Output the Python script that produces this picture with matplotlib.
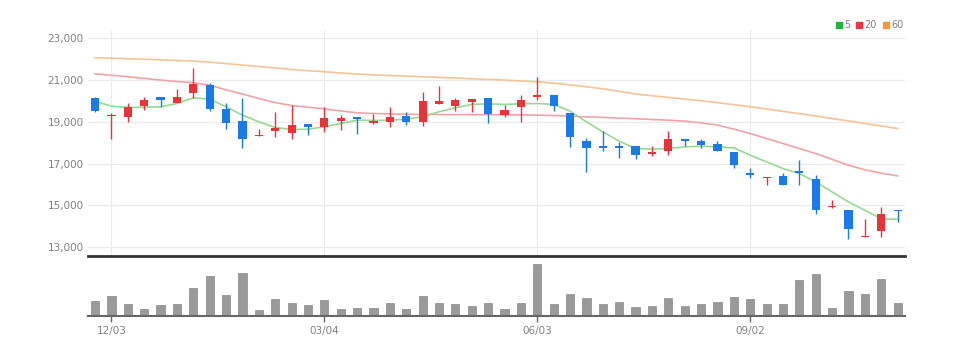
import matplotlib
matplotlib.use("Agg")
import matplotlib.pyplot as plt
from matplotlib.lines import Line2D
import numpy as np
import pandas as pd

plt.rcParams['font.family'] = ['Liberation Sans Narrow', 'DejaVu Sans']

# weekly candles, 2018-11-26 .. 2019-11-04
weeks = pd.date_range('2018-11-26', periods=50, freq='W-MON')
tick_labels = ['12/03', '03/04', '06/03', '09/02']

opens = [20120, 19288, 19240, 19752, 20184, 19888, 20376, 20760, 19608, 19032,
         18312, 18568, 18488, 18872, 18728, 19048, 19240, 18920, 18968, 19272,
         18984, 19832, 19768, 19944, 20120, 19320, 19704, 20200, 20280, 19432,
         18088, 17864, 17832, 17848, 17448, 17592, 18184, 18088, 17928, 17544,
         16552, 16296, 16424, 16632, 16248, 14904, 14760, 13480, 13768, 14760]
highs = [20200, 19400, 19912, 20200, 20184, 20568, 21560, 20840, 19880, 20120,
         18648, 19480, 19800, 18872, 19720, 19320, 19240, 19352, 19688, 19480,
         20408, 20728, 20120, 20100, 20120, 19800, 20280, 21128, 20280, 19432,
         18232, 18552, 18040, 17848, 17848, 18568, 18200, 18200, 18088, 17544,
         16808, 16360, 16552, 17160, 16440, 15240, 14760, 14360, 14920, 14760]
lows = [19450, 18200, 19000, 19560, 19720, 19960, 20152, 19528, 18648, 17752,
        18312, 18280, 18200, 18392, 18520, 18600, 18440, 18900, 18728, 18840,
        18776, 19832, 19512, 19448, 18920, 19208, 19000, 20040, 19512, 17800,
        16600, 17592, 17272, 17240, 17368, 17432, 17848, 17752, 17592, 16808,
        16328, 15960, 15960, 15960, 14600, 14872, 13400, 13480, 13480, 14200]
closes = [19528, 19336, 19688, 20024, 20024, 20200, 20808, 19608, 18952, 18200,
          18392, 18712, 18840, 18744, 19192, 19176, 19128, 19032, 19208, 18968,
          20008, 19992, 20040, 20088, 19352, 19560, 20040, 20280, 19752, 18280,
          17752, 17752, 17768, 17432, 17560, 18168, 18104, 17912, 17592, 16920,
          16456, 16360, 15960, 16568, 14792, 14968, 13848, 13544, 14568, 14712]

ma5 = [19992, 19752, 19688, 19704, 19720, 19880, 20152, 20088, 19720, 19320,
       19000, 18728, 18632, 18648, 18760, 18920, 19080, 19064, 19080, 19128,
       19240, 19480, 19672, 19832, 19864, 19832, 19864, 19880, 19832, 19512,
       19000, 18520, 18072, 17720, 17688, 17720, 17800, 17832, 17800, 17752,
       17400, 17080, 16760, 16520, 16120, 15640, 15160, 14760, 14360, 14328]
ma20 = [21300, 21230, 21160, 21080, 21000, 20930, 20870, 20760, 20530, 20330,
        20120, 19920, 19780, 19700, 19620, 19520, 19430, 19400, 19380, 19360,
        19350, 19350, 19340, 19340, 19340, 19330, 19330, 19320, 19300, 19270,
        19240, 19210, 19180, 19150, 19110, 19080, 19030, 18950, 18840, 18650,
        18440, 18200, 17960, 17720, 17480, 17200, 16920, 16700, 16540, 16410]
ma60 = [22070, 22050, 22020, 22000, 21970, 21940, 21910, 21860, 21790, 21720,
        21650, 21580, 21510, 21450, 21400, 21340, 21290, 21250, 21220, 21190,
        21160, 21130, 21100, 21060, 21030, 21000, 20960, 20920, 20850, 20770,
        20680, 20580, 20460, 20330, 20250, 20170, 20090, 20010, 19920, 19820,
        19720, 19610, 19500, 19390, 19280, 19160, 19040, 18920, 18800, 18680]

volumes = [147, 200, 117, 67, 107, 123, 280, 397, 213, 430,
           57, 173, 133, 107, 163, 73, 83, 83, 133, 67,
           197, 133, 117, 100, 133, 73, 133, 523, 117, 220,
           180, 117, 140, 90, 97, 180, 100, 123, 140, 187,
           167, 120, 120, 357, 423, 83, 253, 223, 373, 133]

UP = '#e8333a'
DOWN = '#1a7ae8'
GRID = '#ebebeb'
TXT = '#808080'

fig = plt.figure(figsize=(9.68, 3.55), dpi=100)
ax = fig.add_axes([88 / 968, 1 - 256 / 355, 817 / 968, 226 / 355])
axv = fig.add_axes([88 / 968, 1 - 316 / 355, 817 / 968, 56 / 355])

x = np.arange(len(closes))
o = np.array(opens)
c = np.array(closes)
colors = [UP if cc >= oo else DOWN for oo, cc in zip(o, c)]
body_low = np.minimum(o, c)
body_h = np.maximum(np.abs(c - o), 60)

tick_pos = [i for i, d in enumerate(weeks) if d.strftime('%m/%d') in tick_labels]

# price panel
for yv in range(13000, 23001, 2000):
    ax.axhline(yv, color=GRID, lw=0.9, zorder=0)
for tp in tick_pos:
    ax.axvline(tp, color=GRID, lw=0.9, zorder=0)

ax.plot(x, ma60, color='#f7c397', lw=1.2, zorder=1)
ax.plot(x, ma20, color='#f3a3a8', lw=1.2, zorder=1)
ax.plot(x, ma5, color='#96da92', lw=1.2, zorder=1)

ax.vlines(x, lows, highs, colors=colors, lw=1.0, zorder=2)
ax.bar(x, body_h, bottom=body_low, width=0.5, color=colors, zorder=3)

ax.set_xlim(-0.43, 49.45)
ax.set_ylim(12570, 23400)
ax.set_yticks(range(13000, 23001, 2000))
ax.set_yticklabels([f'{v:,}' for v in range(13000, 23001, 2000)])
ax.tick_params(axis='y', length=0, pad=3, labelsize=7.5, labelcolor=TXT)
ax.tick_params(axis='x', length=0, labelbottom=False)
for s in ['top', 'right', 'left']:
    ax.spines[s].set_visible(False)
ax.spines['bottom'].set_color('#333333')
ax.spines['bottom'].set_linewidth(2)

# volume panel
axv.bar(x, volumes, width=0.5, color='#999999', edgecolor='#8a8a8a', lw=0.5)
axv.set_xlim(-0.43, 49.45)
axv.set_ylim(0, 560)
axv.set_yticks([])
axv.set_xticks(tick_pos)
axv.set_xticklabels(tick_labels)
axv.tick_params(axis='x', length=4, width=1, color='#666666', pad=3,
                labelsize=7.5, labelcolor=TXT)
for s in ['top', 'right', 'left']:
    axv.spines[s].set_visible(False)
axv.spines['bottom'].set_color('#666666')
axv.spines['bottom'].set_linewidth(1.5)

# legend
handles = [Line2D([], [], ls='', marker='s', ms=4.5, color=col)
           for col in ['#22b33a', '#ee3344', '#f29a38']]
fig.legend(handles, ['5', '20', '60'], loc='center right', ncol=3,
           bbox_to_anchor=(910 / 968, 1 - 25 / 355), frameon=False,
           handletextpad=0.15, columnspacing=0.5, handlelength=0.8,
           fontsize=7, labelcolor=TXT, borderpad=0.2)

fig.savefig('out.png', dpi=100)
